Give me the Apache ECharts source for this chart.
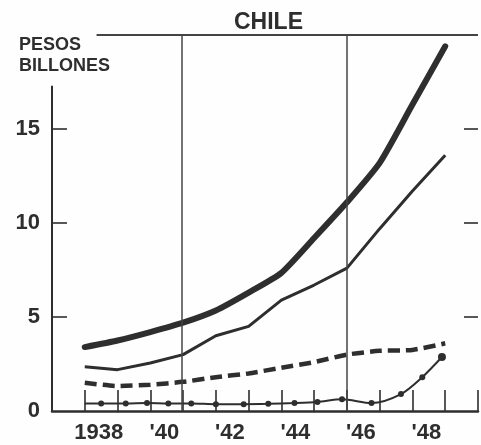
<!DOCTYPE html>
<html>
<head>
<meta charset="utf-8">
<script src="https://cdn.jsdelivr.net/npm/echarts@6/dist/echarts.min.js"></script>
<style>
html,body{margin:0;padding:0;background:#fefefe;}
#c{width:481px;height:445px;}
</style>
</head>
<body>
<div id="c"></div>
<script>
// ---- data ----
var years = [1938, 1939, 1940, 1941, 1942, 1943, 1944, 1945, 1946, 1947, 1948, 1949];
var thickSeries = [3.4, 3.75, 4.2, 4.7, 5.35, 6.3, 7.35, 9.2, 11.1, 13.2, 16.3, 19.4];
var thinSeries = [2.35, 2.2, 2.55, 3.0, 4.0, 4.5, 5.9, 6.7, 7.6, 9.7, 11.7, 13.6];
var dashedSeries = [1.5, 1.33, 1.4, 1.55, 1.8, 2.0, 2.3, 2.6, 3.0, 3.2, 3.25, 3.6];
var dotYears = [1938, 1938.5, 1939.25, 1939.9, 1940.55, 1941.25, 1942.0, 1942.85, 1943.6, 1944.4, 1945.1, 1945.85, 1946.75, 1947.65, 1948.3, 1948.9];
var dotValues = [0.4, 0.4, 0.4, 0.42, 0.4, 0.4, 0.36, 0.36, 0.38, 0.42, 0.48, 0.62, 0.42, 0.9, 1.8, 2.87];
var yTickLabels = [0, 5, 10, 15];
var xLabelYears = [1938, 1940, 1942, 1944, 1946, 1948];
var dividerYears = [1940.95, 1946];
var titleText = 'CHILE';
var unitText = 'PESOS\nBILLONES';

var ink = '#2e2e2e';
var font = "'Liberation Sans', Arial, sans-serif";

function pairs(xs, ys) { return xs.map(function (x, i) { return [x, ys[i]]; }); }

var dotData = pairs(dotYears, dotValues).map(function (p, i) {
  var item = { value: p };
  if (i === 0) item.symbol = 'none';
  if (i === dotYears.length - 1) item.symbolSize = 8;
  return item;
});

var chart = echarts.init(document.getElementById('c'), null, { renderer: 'canvas' });
chart.setOption({
  backgroundColor: '#fefefe',
  animation: false,
  title: [
    { text: titleText, left: 229, top: 6, textStyle: { fontFamily: font, fontSize: 23, fontWeight: 'bold', color: ink } },
    { text: unitText, left: 14, top: 30, textStyle: { fontFamily: font, fontSize: 18, fontWeight: 'bold', color: ink, lineHeight: 21 } }
  ],
  grid: { left: 52, right: -3, top: 35, bottom: 34 },
  xAxis: {
    type: 'value', min: 1937, max: 1950, interval: 1,
    splitLine: { show: false },
    axisLine: { show: true, lineStyle: { color: ink, width: 2.5 } },
    axisTick: { show: true, inside: true, length: 21, lineStyle: { color: ink, width: 1.6 } },
    axisLabel: {
      margin: 11, fontFamily: font, fontSize: 22, fontWeight: 'bold', color: ink,
      padding: [0, 0, 0, 28],
      formatter: function (v) {
        if (xLabelYears.indexOf(v) < 0) return '';
        return v === 1938 ? '1938' : "'" + String(v).slice(2);
      }
    }
  },
  yAxis: [
    {
      type: 'value', min: 0, max: 20, interval: 5, position: 'left',
      splitLine: { show: false },
      axisLine: { show: false },
      axisTick: { show: true, inside: true, length: 15, customValues: [5, 10, 15], lineStyle: { color: ink, width: 1.6 } },
      axisLabel: { margin: 12, fontFamily: font, fontSize: 22, fontWeight: 'bold', color: ink, customValues: yTickLabels }
    },
    {
      type: 'value', min: 0, max: 20, interval: 5, position: 'right',
      splitLine: { show: false },
      axisLine: { show: false },
      axisTick: { show: true, inside: true, length: 14, customValues: [5, 10, 15], lineStyle: { color: ink, width: 1.6 } },
      axisLabel: { show: false }
    }
  ],
  series: [
    {
      type: 'line', data: pairs(years, thickSeries), symbol: 'none', smooth: 0.2,
      lineStyle: { color: ink, width: 6, cap: 'round', join: 'round' },
      markLine: {
        silent: true, symbol: 'none', label: { show: false },
        data: [
          { xAxis: dividerYears[0], lineStyle: { color: '#444', width: 1.5, type: 'solid' } },
          { xAxis: dividerYears[1], lineStyle: { color: '#444', width: 1.5, type: 'solid' } },
          [ { coord: [1937, 0], lineStyle: { color: ink, width: 2, type: 'solid' } }, { coord: [1937, 17.3] } ],
          [ { coord: [1938.36, 20], lineStyle: { color: '#444', width: 2, type: 'solid' } }, { coord: [1950, 20] } ]
        ]
      }
    },
    {
      type: 'line', data: pairs(years, thinSeries), symbol: 'none',
      lineStyle: { color: ink, width: 3, join: 'round' }
    },
    {
      type: 'line', data: pairs(years, dashedSeries), symbol: 'none', smooth: 0.2,
      lineStyle: { color: ink, width: 4.5, type: [12, 6] }
    },
    {
      type: 'line', data: dotData, symbol: 'circle', symbolSize: 6, smooth: 0.3,
      itemStyle: { color: ink },
      lineStyle: { color: ink, width: 2 }
    }
  ]
});
</script>
</body>
</html>
